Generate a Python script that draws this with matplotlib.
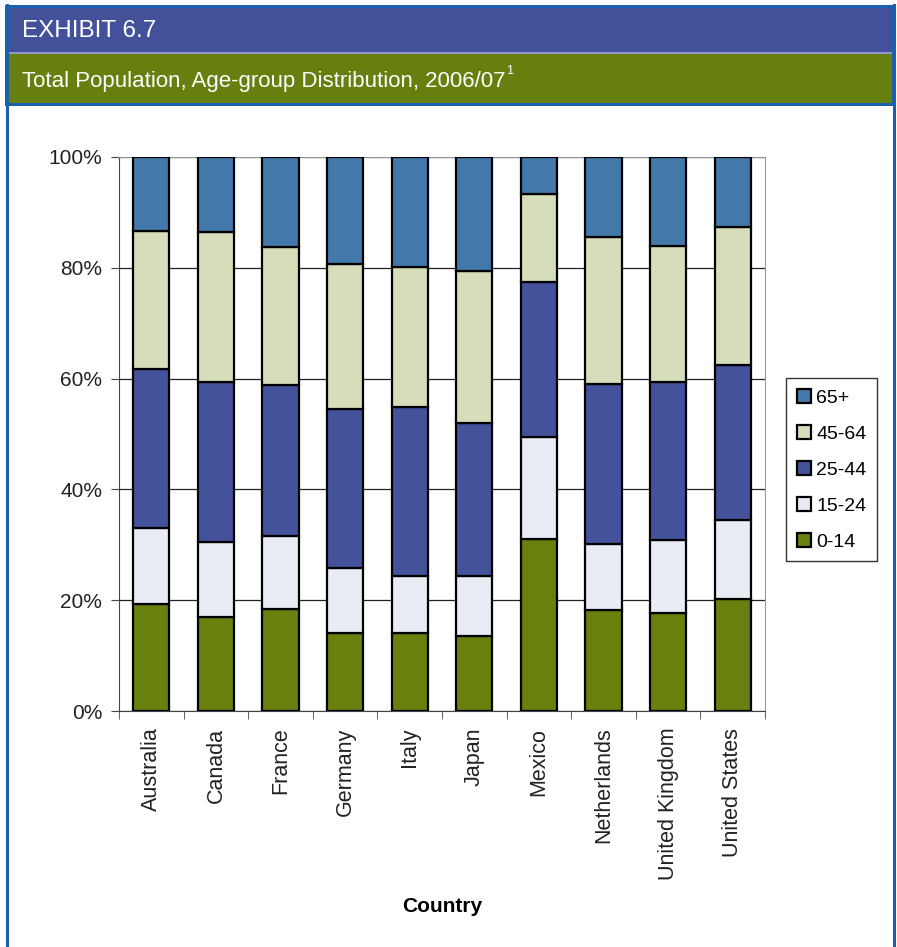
#!/usr/bin/env python3

import matplotlib
matplotlib.use("Agg")
import matplotlib.pyplot as plt
from matplotlib.patches import Rectangle
from matplotlib.lines import Line2D
import numpy as np

countries = ["Australia", "Canada", "France", "Germany", "Italy", "Japan",
             "Mexico", "Netherlands", "United Kingdom", "United States"]
age_groups = ["0-14", "15-24", "25-44", "45-64", "65+"]

# share of population (%) per age group
share_0_14 = [19.3, 16.9, 18.4, 14.1, 14.0, 13.6, 31.0, 18.2, 17.7, 20.2]
share_15_24 = [13.8, 13.6, 13.1, 11.7, 10.4, 10.8, 18.4, 11.9, 13.2, 14.2]
share_25_44 = [28.7, 28.8, 27.4, 28.8, 30.5, 27.5, 28.0, 29.0, 28.4, 28.1]
share_45_64 = [24.9, 27.2, 24.8, 26.0, 25.2, 27.5, 16.0, 26.5, 24.6, 24.9]
share_65 = [13.3, 13.5, 16.3, 19.4, 19.9, 20.6, 6.6, 14.4, 16.1, 12.6]

colors = ["#67800e", "#e8edf5", "#43529b", "#d6ddbb", "#4278aa"]

W, H = 897, 947


def main():
    plt.rcParams["font.family"] = ["Liberation Sans", "DejaVu Sans"]
    fig = plt.figure(figsize=(W / 100, H / 100), dpi=100)
    fig.patch.set_facecolor("white")

    # frame + header bands (figure pixel coordinates)
    bg = fig.add_axes([0, 0, 1, 1])
    bg.set_xlim(0, W)
    bg.set_ylim(H, 0)
    bg.axis("off")
    bg.add_patch(Rectangle((5, 5), 890, 101, facecolor="#1b5fae", edgecolor="none"))
    bg.add_patch(Rectangle((8, 8), 884, 44, facecolor="#43519a", edgecolor="none"))
    bg.add_patch(Rectangle((8, 52), 884, 2, facecolor="#8f96c8", edgecolor="none"))
    bg.add_patch(Rectangle((8, 54), 884, 49, facecolor="#667f0e", edgecolor="none"))
    bg.add_line(Line2D([6.5, 6.5], [5, H], color="#1b5fae", lw=2.2))
    bg.add_line(Line2D([893.5, 893.5], [5, H], color="#1b5fae", lw=2.2))
    bg.text(22, 31, "EXHIBIT 6.7", color="white", fontsize=17.5, va="center")
    t = bg.text(22, 81, "Total Population, Age-group Distribution, 2006/07",
                color="white", fontsize=16, va="center")
    r = fig.canvas.get_renderer()
    ext = t.get_window_extent(r)
    bg.text(ext.x1 / 100 * 100 + 1, 71, "1", color="white", fontsize=9,
            va="center", ha="left")

    ax = fig.add_axes([119 / W, (H - 711) / H, (765 - 119) / W, (711 - 157) / H])
    x = np.arange(len(countries))
    series = [share_0_14, share_15_24, share_25_44, share_45_64, share_65]
    bottom = np.zeros(len(countries))
    handles = []
    for vals, col, lab in zip(series, colors, age_groups):
        b = ax.bar(x, vals, width=0.56, bottom=bottom, color=col,
                   edgecolor="black", linewidth=1.6, label=lab, zorder=3)
        handles.append(b)
        bottom += np.array(vals)

    ax.set_xlim(-0.5, len(countries) - 0.5)
    ax.set_ylim(0, 100)
    ax.set_yticks(np.arange(0, 101, 20))
    ax.set_yticklabels([f"{v}%" for v in range(0, 101, 20)])
    ax.yaxis.grid(True, color="#222222", lw=0.9, zorder=0)
    ax.set_xticks(x)
    ax.set_xticklabels(countries, rotation=90)
    ax.set_xticks(np.arange(-0.5, len(countries)), minor=True)
    ax.tick_params(axis="x", which="major", length=0, pad=12, labelsize=15.5,
                   colors="#222222")
    ax.tick_params(axis="x", which="minor", length=6, direction="out",
                   color="#444444")
    ax.tick_params(axis="y", length=6, direction="out", pad=6, labelsize=15,
                   colors="#222222", color="#444444")
    for s in ["top", "right"]:
        ax.spines[s].set_color("#999999")
    ax.spines["left"].set_color("#444444")
    ax.spines["bottom"].set_color("#444444")

    ax.set_xlabel("Country", fontsize=15, fontweight="bold", labelpad=12)

    leg = fig.legend(handles[::-1], age_groups[::-1], loc="upper left",
                     bbox_to_anchor=(786 / W, 1 - 378 / H), fontsize=14,
                     frameon=True, fancybox=False, edgecolor="black",
                     handlelength=0.75, handleheight=0.75, handletextpad=0.25,
                     labelspacing=0.93, borderpad=0.55, borderaxespad=0)
    leg.get_frame().set_linewidth(1.0)

    fig.savefig("out.png", dpi=100)


if __name__ == "__main__":
    main()
